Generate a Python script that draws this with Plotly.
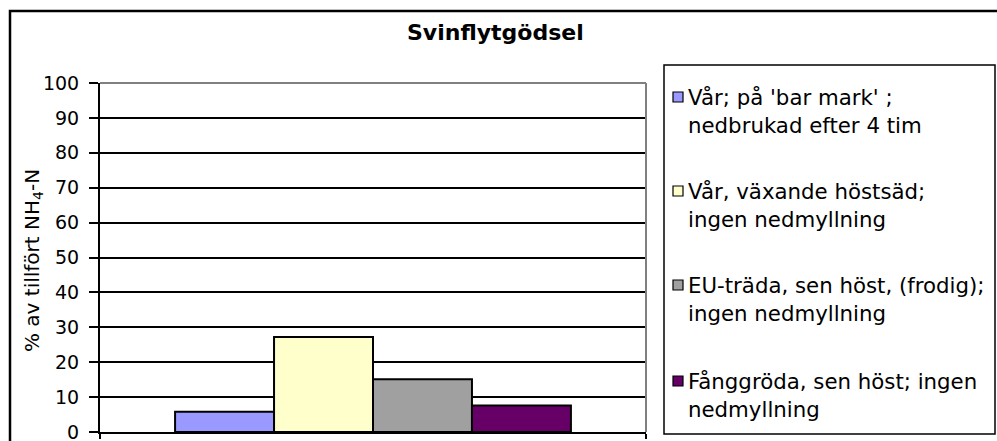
import plotly.graph_objects as go

# ---- data ----
categories = ["Svinflytgödsel"]
series_names = [
    "Vår; på 'bar mark' ;<br>nedbrukad efter 4 tim",
    "Vår, växande höstsäd;<br>ingen nedmyllning",
    "EU-träda, sen höst, (frodig);<br>ingen nedmyllning",
    "Fånggröda, sen höst; ingen<br>nedmyllning",
]
series_values = [5.8, 27.2, 15.1, 7.6]
series_colors = ["#9999FF", "#FFFFCC", "#A0A0A0", "#660066"]
y_ticks = [0, 10, 20, 30, 40, 50, 60, 70, 80, 90, 100]
title_text = "Svinflytgödsel"
y_title = "% av tillfört NH<sub>4</sub>-N"

# ---- geometry (page pixels; body margin removed by post_script) ----
W, H = 997, 441
PL, PR, PT, PB = 100, 646, 83, 432
FONT = "DejaVu Sans"


def px(x):
    return (x - PL) / (PR - PL)


def py(y):
    return (PB - y) / (PB - PT)


fig = go.Figure()
for name, val, col in zip(series_names, series_values, series_colors):
    fig.add_trace(go.Bar(
        x=categories, y=[val], name=name,
        marker=dict(color=col, line=dict(color="black", width=2)),
        showlegend=False,
    ))

shapes = []
annotations = []

# outer chart border (extends beyond the visible page)
shapes.append(dict(type="rect", xref="paper", yref="paper",
                   x0=px(10), x1=px(1200), y0=py(11), y1=py(600),
                   line=dict(color="black", width=2.5), layer="above"))
# plot area gray border top/right
shapes.append(dict(type="line", xref="paper", yref="paper",
                   x0=0, x1=1, y0=1, y1=1, line=dict(color="#808080", width=2), layer="above"))
shapes.append(dict(type="line", xref="paper", yref="paper",
                   x0=1, x1=1, y0=0, y1=1, line=dict(color="#808080", width=2), layer="above"))

# legend box
shapes.append(dict(type="rect", xref="paper", yref="paper",
                   x0=px(664), x1=px(995), y0=py(65), y1=py(434),
                   line=dict(color="black", width=1.5), fillcolor="white", layer="above"))
entry_y = [97, 191, 285, 381]
for name, col, ey in zip(series_names, series_colors, entry_y):
    shapes.append(dict(type="rect", xref="paper", yref="paper",
                       x0=px(673), x1=px(683), y0=py(ey - 5), y1=py(ey + 5),
                       line=dict(color="black", width=1.2), fillcolor=col, layer="above"))
    annotations.append(dict(xref="paper", yref="paper", x=px(686), y=py(ey - 14),
                            xanchor="left", yanchor="top", align="left",
                            text=name, showarrow=False,
                            font=dict(family=FONT, size=21.3, color="black")))

# chart title
annotations.append(dict(xref="paper", yref="paper", x=px(495), y=py(32),
                        xanchor="center", yanchor="middle", text="<b>" + title_text + "</b>",
                        showarrow=False, font=dict(family=FONT, size=22, color="black")))
# y-axis title
annotations.append(dict(xref="paper", yref="paper", x=px(33), y=py(261),
                        xanchor="center", yanchor="middle", text=y_title, textangle=-90,
                        showarrow=False, font=dict(family=FONT, size=20, color="black")))

fig.update_layout(
    width=W, height=H,
    margin=dict(l=PL, r=W - PR, t=PT, b=H - PB, pad=0, autoexpand=False),
    paper_bgcolor="white", plot_bgcolor="white",
    barmode="group", bargap=0.275, bargroupgap=0,
    shapes=shapes, annotations=annotations,
    showlegend=False,
    font=dict(family=FONT, color="black"),
)
fig.update_yaxes(
    range=[0, 100], tickvals=y_ticks, ticktext=[str(v) for v in y_ticks],
    showgrid=True, gridcolor="black", gridwidth=2,
    showline=True, linecolor="black", linewidth=2,
    ticks="outside", ticklen=9, tickwidth=2, tickcolor="black",
    ticklabelstandoff=6, automargin=False, ticklabeloverflow="allow",
    tickfont=dict(family=FONT, size=19, color="black"),
    zeroline=False, fixedrange=True,
)
fig.update_xaxes(
    showticklabels=False, showgrid=False,
    showline=True, linecolor="black", linewidth=2,
    ticks="outside", tickson="boundaries", ticklen=5, tickwidth=2, tickcolor="black",
    zeroline=False, automargin=False, fixedrange=True,
)

fig.write_html(
    "out.html",
    config={"displayModeBar": False},
    post_script="document.body.style.margin='0px';document.body.style.overflow='hidden';",
)
